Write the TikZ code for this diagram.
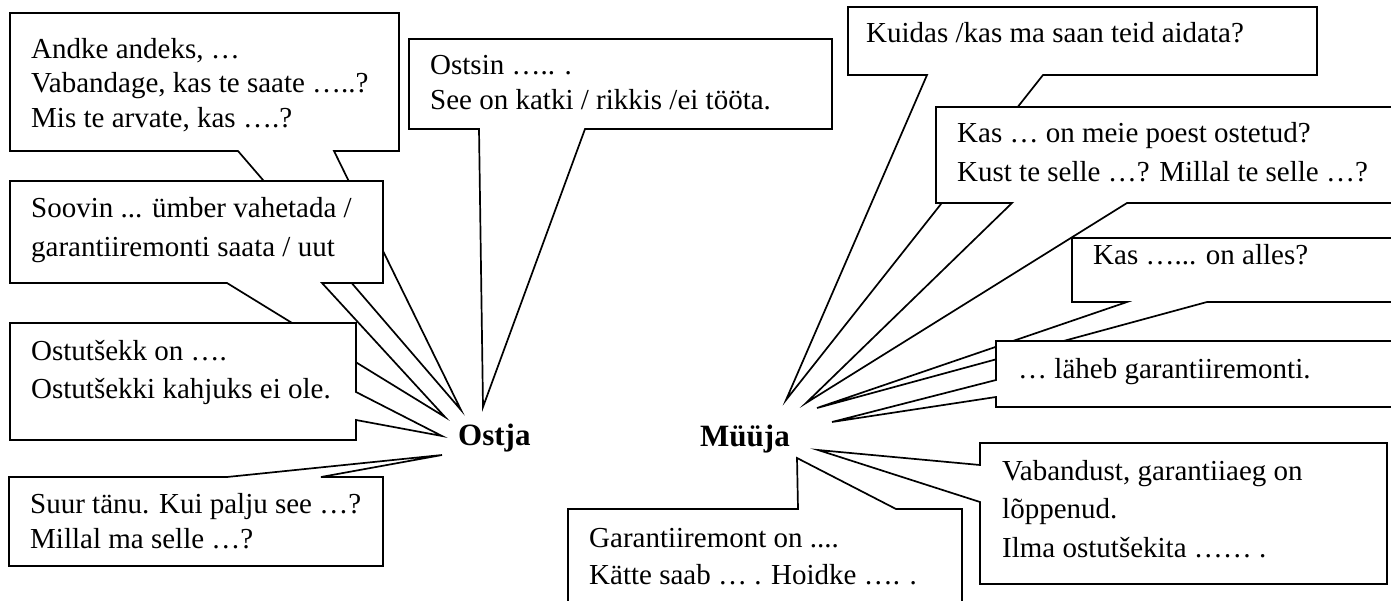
\documentclass[tikz,border=0pt]{standalone}
\usepackage{fontspec}
\setmainfont{Liberation Serif}
\begin{document}
\begin{tikzpicture}[x=1pt,y=-1pt,
  callout/.style={draw=black,fill=white,line width=1.7pt,line join=miter},
  txt/.style={anchor=base west,inner sep=0pt,font=\fontsize{29}{35}\selectfont},
  lbl/.style={anchor=base west,inner sep=0pt,font=\fontsize{31}{37}\selectfont\bfseries}]
\path[use as bounding box] (0,0) rectangle (1391,601);
\clip (0,0) rectangle (1391,601);
% tips
\coordinate (tAndke) at (461,410);
\coordinate (tOstsin) at (483,407);
\coordinate (tSoovin) at (445,417);
\coordinate (tOstut) at (442,436);
\coordinate (tSuur) at (442,455);
\coordinate (tKuidas) at (786,400);
\coordinate (tKasMeie) at (806,403);
\coordinate (tKasAlles) at (817,408);
\coordinate (tLaheb) at (832,422);
\coordinate (tVab) at (818,450);
\coordinate (tGar) at (797,458);
% ---- Ostja side ----
\draw[callout] (10,13) -- (399,13) -- (399,151) -- (334,151) -- (tAndke) -- (238,151) -- (10,151) -- cycle;
\node[txt] (andke1) at (31,59) {Andke andeks, …};
\node[txt] (andke2) at (31,93) {Vabandage, kas te saate …..?};
\node[txt] (andke3) at (31,128) {Mis te arvate, kas ….?};
\draw[callout] (409,39) -- (832,39) -- (832,129) -- (585,129) -- (tOstsin) -- (479,129) -- (409,129) -- cycle;
\node[txt] (ostsin1) at (430,75) {Ostsin ….. .};
\node[txt] (ostsin2) at (430,110) {See on katki / rikkis /ei tööta.};
\draw[callout] (10,181) -- (383,181) -- (383,283) -- (322,283) -- (tSoovin) -- (227,283) -- (10,283) -- cycle;
\node[txt] (soovin1) at (31,218) {Soovin ... ümber vahetada /};
\node[txt] (soovin2) at (31,257) {garantiiremonti saata / uut};
\draw[callout] (10,323) -- (356,323) -- (356,392) -- (tOstut) -- (356,420) -- (356,440) -- (10,440) -- cycle;
\node[txt] (ostut1) at (31,360) {Ostutšekk on ….};
\node[txt] (ostut2) at (31,398) {Ostutšekki kahjuks ei ole.};
\draw[callout] (9,477) -- (227,477) -- (tSuur) -- (321,477) -- (383,477) -- (383,566) -- (9,566) -- cycle;
\node[txt] (suur1) at (30,513) {Suur tänu. Kui palju see …?};
\node[txt] (suur2) at (30,548) {Millal ma selle …?};
\node[lbl] (ostja) at (458,445) {Ostja};
% ---- Müüja side ----
\draw[callout] (848,7) -- (1317,7) -- (1317,75) -- (1043,75) -- (tKuidas) -- (927,75) -- (848,75) -- cycle;
\node[txt] (kuidas1) at (866,43) {Kuidas /kas ma saan teid aidata?};
\draw[callout] (936,107) -- (1400,107) -- (1400,203) -- (1127,203) -- (tKasMeie) -- (1012,203) -- (936,203) -- cycle;
\node[txt] (kasmeie1) at (957,143) {Kas … on meie poest ostetud?};
\node[txt] (kasmeie2) at (957,182) {Kust te selle …? Millal te selle …?};
\draw[callout] (1072,238) -- (1400,238) -- (1400,302) -- (1207,302) -- (tKasAlles) -- (1127,302) -- (1072,302) -- cycle;
\node[txt] (kasalles1) at (1093,265) {Kas …... on alles?};
\draw[callout] (996,341) -- (1400,341) -- (1400,407) -- (996,407) -- (996,397) -- (tLaheb) -- (996,380) -- cycle;
\node[txt] (laheb1) at (1018,378) {… läheb garantiiremonti.};
\draw[callout] (980,443) -- (1387,443) -- (1387,584) -- (980,584) -- (980,502) -- (tVab) -- (980,465) -- cycle;
\node[txt] (vab1) at (1002,480) {Vabandust, garantiiaeg on};
\node[txt] (vab2) at (1002,518) {lõppenud.};
\node[txt] (vab3) at (1002,557) {Ilma ostutšekita …… .};
\draw[callout] (568,509) -- (798,509) -- (tGar) -- (896,509) -- (962,509) -- (962,630) -- (568,630) -- cycle;
\node[txt] (gar1) at (589,547) {Garantiiremont on ....};
\node[txt] (gar2) at (589,584) {Kätte saab … . Hoidke …. .};
\node[lbl] (muuja) at (700,446) {Müüja};
\end{tikzpicture}
\end{document}
